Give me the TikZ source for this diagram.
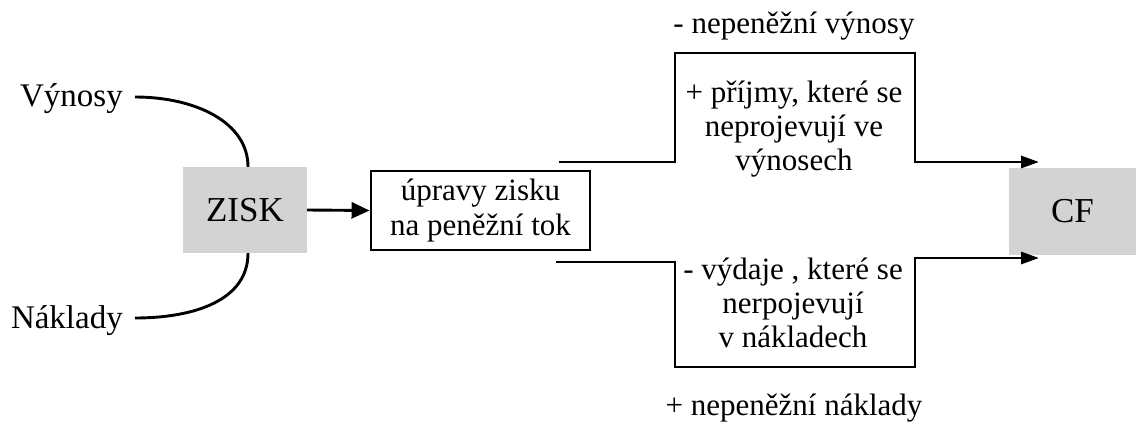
\documentclass[tikz,border=0pt]{standalone}
\usepackage{fontspec}
\setmainfont{Liberation Serif}
\usetikzlibrary{arrows.meta}
\definecolor{boxgray}{RGB}{211,211,211}
\begin{document}
\begin{tikzpicture}[x=1pt,y=-1pt,
  conn/.style={line width=2.9pt,line join=miter},
  arr/.style={conn,-{Triangle[length=18pt,width=12pt]}},
  bigarr/.style={conn,-{Triangle[length=18pt,width=16pt]}},
  grayblock/.style={fill=boxgray,inner sep=0pt,font=\fontsize{35}{38}\selectfont},
  label/.style={inner sep=0pt,align=center,font=\fontsize{31}{34}\selectfont},
  side/.style={inner sep=0pt,font=\fontsize{33}{36}\selectfont}]
\useasboundingbox (0,0) rectangle (1136,423);

% boxes
\node[grayblock,minimum width=124pt,minimum height=86pt] (zisk) at (245,210) {ZISK};
\node[grayblock,minimum width=127pt,minimum height=87pt] (cf) at (1072.5,211.5) {CF};
\node[draw,line width=2.9pt,inner sep=0pt,minimum width=219pt,minimum height=79pt,
      align=center,font=\fontsize{31}{35}\selectfont] (upr) at (480.5,210.5)
      {úpravy zisku\\na peněžní tok};

% inputs on the left
\node[side,anchor=base east] (vyn) at (123,106) {Výnosy};
\node[side,anchor=base east] (nak) at (123,328) {Náklady};
\coordinate (vynE) at (135,97);
\coordinate (nakE) at (135,318);

\draw[conn] (vynE) .. controls (195,97) and (248,122) .. ([xshift=3pt]zisk.north);
\draw[conn] ([xshift=3pt]zisk.south) .. controls (248,300) and (195,318) .. (nakE);
\draw[bigarr] (zisk.east) -- (upr.west);

% upper branch
\coordinate (topS) at (559,162);
\coordinate (topE) at (1039,162);
\draw[arr] (topS) -- (675,162) -- (675,53) -- (915,53) -- (915,162) -- (topE);

% lower branch
\coordinate (botS) at (556,262);
\coordinate (botE) at (1039,258);
\draw[arr] (botS) -- (675,262) -- (675,367) -- (915,367) -- (915,258) -- (botE);

% adjustment texts
\node[label,anchor=base] (nvyn) at (794,33) {- nepeněžní výnosy};
\node[label,anchor=base] (prij) at (794,170) {+ příjmy, které se\\neprojevují ve\\výnosech};
\node[label,anchor=base] (vyd) at (793,347) {- výdaje , které se\\nerpojevují\\v nákladech};
\node[label,anchor=base] (nnak) at (794,415) {+ nepeněžní náklady};
\end{tikzpicture}
\end{document}
